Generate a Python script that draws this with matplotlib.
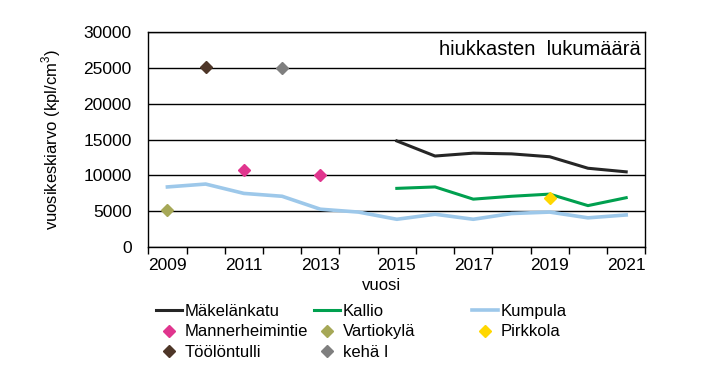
import numpy as np
import matplotlib
matplotlib.use("Agg")
import matplotlib.pyplot as plt

plt.rcParams['font.family'] = ['Liberation Sans', 'DejaVu Sans']

years = list(range(2009, 2022))
makelankatu = [None] * 6 + [14800, 12700, 13100, 13000, 12600, 11000, 10500]
kallio = [None] * 6 + [8200, 8400, 6700, 7100, 7400, 5800, 6900]
kumpula = [8400, 8800, 7500, 7100, 5300, 4900, 3900, 4600, 3900, 4700, 4900, 4100, 4500]
mannerheimintie = {2011: 10700, 2013: 10000}
vartiokyla = {2009: 5200}
pirkkola = {2019: 6900}
toolontulli = {2010: 25100}
keha1 = {2012: 24950}

fig = plt.figure(figsize=(7.28, 3.73), dpi=100)
ax = fig.add_axes([148.3/728, 1-247.3/373, 497/728, 215.6/373])

x = np.arange(len(years))

def series(vals):
    return np.array([np.nan if v is None else v for v in vals], dtype=float)

ax.plot(x, series(makelankatu), color='#262626', lw=2.2, label='Mäkelänkatu', zorder=3)
ax.plot(x, series(kallio), color='#00A04F', lw=2.2, label='Kallio', zorder=3)
ax.plot(x, series(kumpula), color='#9DC8EA', lw=2.6, label='Kumpula', zorder=3)

def pts(d, color, label):
    xs = [years.index(k) for k in d]
    ys = list(d.values())
    ax.plot(xs, ys, ls='none', marker='D', ms=6.5, color=color, mec=color, label=label, zorder=4)

pts(mannerheimintie, '#E0358E', 'Mannerheimintie')
pts(vartiokyla, '#A6A857', 'Vartiokylä')
pts(pirkkola, '#FFD700', 'Pirkkola')
pts(toolontulli, '#4E3628', 'Töölöntulli')
pts(keha1, '#7F7F7F', 'kehä I')

ax.set_xlim(-0.5, len(years) - 0.5)
ax.set_ylim(0, 30000)
ax.set_yticks(np.arange(0, 30001, 5000))
ax.yaxis.grid(True, color='black', lw=1)
ax.set_axisbelow(True)
ax.tick_params(axis='y', length=0, pad=12, labelsize=12.5)
ax.set_xticks(x[::2])
ax.set_xticklabels([str(y) for y in years[::2]])
ax.set_xticks(np.arange(-0.5, len(years), 1), minor=True)
ax.tick_params(axis='x', which='major', length=0, pad=8, labelsize=12.5)
ax.tick_params(axis='x', which='minor', length=5, direction='out', width=1)
for s in ax.spines.values():
    s.set_color('black')
    s.set_linewidth(1)

ax.set_ylabel(r'vuosikeskiarvo (kpl/cm$^{\mathregular{3}}$)', fontsize=12)
ax.yaxis.set_label_coords(-0.172, 0.5)
fig.text(381/728, 1-285/373, 'vuosi', ha='center', va='center', fontsize=12)
ax.text(0.991, 0.918, 'hiukkasten  lukumäärä', transform=ax.transAxes,
        ha='right', va='center', fontsize=14.5)

handles, labels = ax.get_legend_handles_labels()
h = dict(zip(labels, handles))
cols = [['Mäkelänkatu', 'Mannerheimintie', 'Töölöntulli'],
        ['Kallio', 'Vartiokylä', 'kehä I'],
        ['Kumpula', 'Pirkkola']]
xpos = [155.7, 314, 472]
for names, xp in zip(cols, xpos):
    fig.legend([h[n] for n in names], names, loc='upper left',
               bbox_to_anchor=(xp/728, 1-304/373), frameon=False,
               borderpad=0, borderaxespad=0, handlelength=1.58,
               handletextpad=0.14, labelspacing=0.32, fontsize=12)

fig.savefig('out.png', dpi=100)
